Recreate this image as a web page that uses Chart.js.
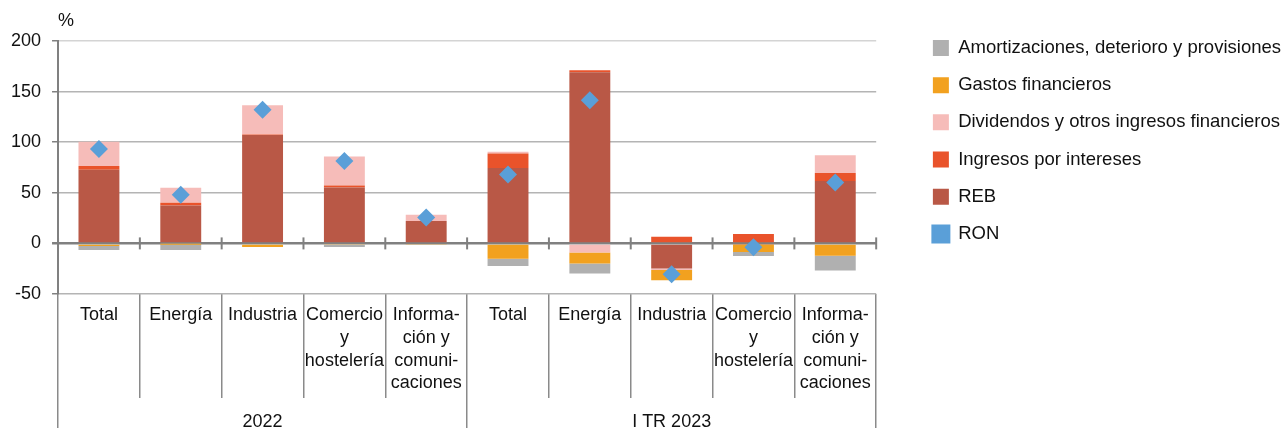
<!DOCTYPE html>
<html>
<head>
<meta charset="utf-8">
<script src="https://cdn.jsdelivr.net/npm/chart.js@4/dist/chart.umd.min.js"></script>
<style>
    html, body { margin: 0; padding: 0; background: #fff; }
    #wrap { width: 1283px; height: 428px; position: relative; }
</style>
</head>
<body>
<div id="wrap"><canvas id="resultados"></canvas></div>
<script>
    // Categories (two groups of five sectors)
    var categories = [
        "Total", "Energía", "Industria", ["Comercio", "y", "hostelería"], ["Informa-", "ción y", "comuni-", "caciones"],
        "Total", "Energía", "Industria", ["Comercio", "y", "hostelería"], ["Informa-", "ción y", "comuni-", "caciones"]
    ];
    var groups = ["2022", "I TR 2023"];
    var yTicks = [-50, 0, 50, 100, 150, 200];

    // Series (%)
    var reb          = [72.7, 37.5, 107, 55.3, 22.1, 74.4, 169, -24.7, -1, 61.6];
    var intereses    = [3.7, 2.7, 0.5, 2, 0, 14.4, 2, 6.5, 9.2, 7.9];
    var dividendos   = [24, 14.8, 29, 28.6, 6.2, 1.7, -8.9, -1.5, 0, 17.7];
    var gastos       = [-2.5, -0.3, -3.5, -1.5, -1.5, -15.1, -10.9, -10.3, -7.5, -12.1];
    var amortizacion = [-4, -6.3, 0, -2, 0, -7.2, -9.9, 0, -4, -14.8];
    var ron          = [93.4, 48, 132, 81.3, 25.7, 68, 141.5, -30.6, -3.8, 60.2];

    // Legend order as in the original
    var legendOrder = ["Amortizaciones, deterioro y provisiones", "Gastos financieros",
        "Dividendos y otros ingresos financieros", "Ingresos por intereses", "REB", "RON"];

    var font = "'Liberation Sans', Arial, Helvetica, sans-serif";
    Chart.defaults.font.family = font;
    Chart.defaults.font.size = 18;
    Chart.defaults.color = "#111";

    function bar(label, data, color) {
        return {
            type: "bar",
            label: label,
            data: data,
            xAxisID: "x",
            yAxisID: "y",
            backgroundColor: color,
            borderWidth: 0,
            stack: "s",
            barPercentage: 0.5,
            categoryPercentage: 1,
            order: 1
        };
    }

    // tick marks crossing the zero line at the category boundaries
    var zeroTicks = {
        id: "zeroTicks",
        afterDraw: function (chart) {
            var c = chart.ctx, x = chart.scales.x, y = chart.scales.y;
            var y0 = y.getPixelForValue(0);
            var half = (x.getPixelForValue(1) - x.getPixelForValue(0)) / 2;
            c.save();
            c.strokeStyle = "#808080";
            c.lineWidth = 2;
            for (var i = 0; i <= categories.length; i++) {
                var px = x.getPixelForValue(i) - half;
                c.beginPath();
                c.moveTo(px, y0 - 6);
                c.lineTo(px, y0 + 6);
                c.stroke();
            }
            c.restore();
        }
    };

    var ctx = document.getElementById("resultados").getContext("2d");
    var chart = new Chart(ctx, {
        data: {
            labels: categories,
            datasets: [
                bar("REB", reb, "#b95846"),
                bar("Ingresos por intereses", intereses, "#e9532b"),
                bar("Dividendos y otros ingresos financieros", dividendos, "#f6bcb9"),
                bar("Gastos financieros", gastos, "#f2a11f"),
                bar("Amortizaciones, deterioro y provisiones", amortizacion, "#b0b0b0"),
                {
                    type: "line",
                    label: "RON",
                    data: ron,
                    xAxisID: "x",
                    yAxisID: "y",
                    stack: "ron",
                    showLine: false,
                    pointStyle: "rectRot",
                    pointRadius: 9,
                    pointHoverRadius: 9,
                    backgroundColor: "#5a9fd8",
                    borderColor: "#5a9fd8",
                    pointBorderWidth: 0,
                    order: 0
                }
            ]
        },
        options: {
            responsive: true,
            maintainAspectRatio: false,
            animation: false,
            layout: { padding: { top: 20, left: 0, right: -8, bottom: 0 } },
            plugins: {
                tooltip: { enabled: false },
                legend: {
                    position: "right",
                    align: "start",
                    maxWidth: 600,
                    labels: {
                        boxWidth: 16,
                        boxHeight: 16,
                        padding: 18.7,
                        color: "#111",
                        font: { size: 18.5 },
                        sort: function (a, b) {
                            return legendOrder.indexOf(a.text) - legendOrder.indexOf(b.text);
                        }
                    }
                }
            },
            scales: {
                xTop: {
                    type: "category",
                    labels: [""],
                    position: "top",
                    afterFit: function (scale) { scale.height = 21; },
                    grid: { display: false },
                    border: { display: false },
                    ticks: { display: false },
                    title: { display: true, text: "%", align: "start", color: "#111", font: { size: 18 }, padding: { top: -10, bottom: 0 } }
                },
                x: {
                    type: "category",
                    stacked: true,
                    offset: true,
                    afterFit: function (scale) { scale.height = 104; },
                    grid: { offset: true, drawOnChartArea: false, tickLength: 104, color: "#8a8a8a", lineWidth: 1.5 },
                    border: { display: false },
                    ticks: { padding: -94, maxRotation: 0, autoSkip: false, font: { size: 18, lineHeight: 1.26 }, color: "#111" }
                },
                x2: {
                    type: "category",
                    labels: groups,
                    position: "bottom",
                    offset: true,
                    afterFit: function (scale) { scale.height = 30; },
                    grid: { offset: true, drawOnChartArea: false, tickLength: 30, color: "#8a8a8a", lineWidth: 1.5 },
                    border: { display: false },
                    ticks: { padding: -17, maxRotation: 0, color: "#111" }
                },
                y: {
                    stacked: true,
                    min: -50,
                    max: 200,
                    afterBuildTicks: function (scale) {
                        scale.ticks = yTicks.map(function (v) { return { value: v }; });
                    },
                    grid: {
                        color: function (c) {
                            if (c.tick && c.tick.value === 0) return "#808080";
                            return c.tick && c.tick.value === 200 ? "#d4d4d4" : "#b4b4b4";
                        },
                        lineWidth: function (c) { return c.tick && c.tick.value === 0 ? 2.5 : 1.5; },
                        tickLength: 6,
                        tickColor: "#808080"
                    },
                    border: { color: "#808080", width: 2 },
                    ticks: { padding: 11, color: "#111" }
                },
                yPad: {
                    position: "right",
                    afterFit: function (scale) { scale.width = 38; },
                    grid: { display: false },
                    border: { display: false },
                    ticks: { display: false }
                }
            }
        },
        plugins: [zeroTicks]
    });
</script>
</body>
</html>
